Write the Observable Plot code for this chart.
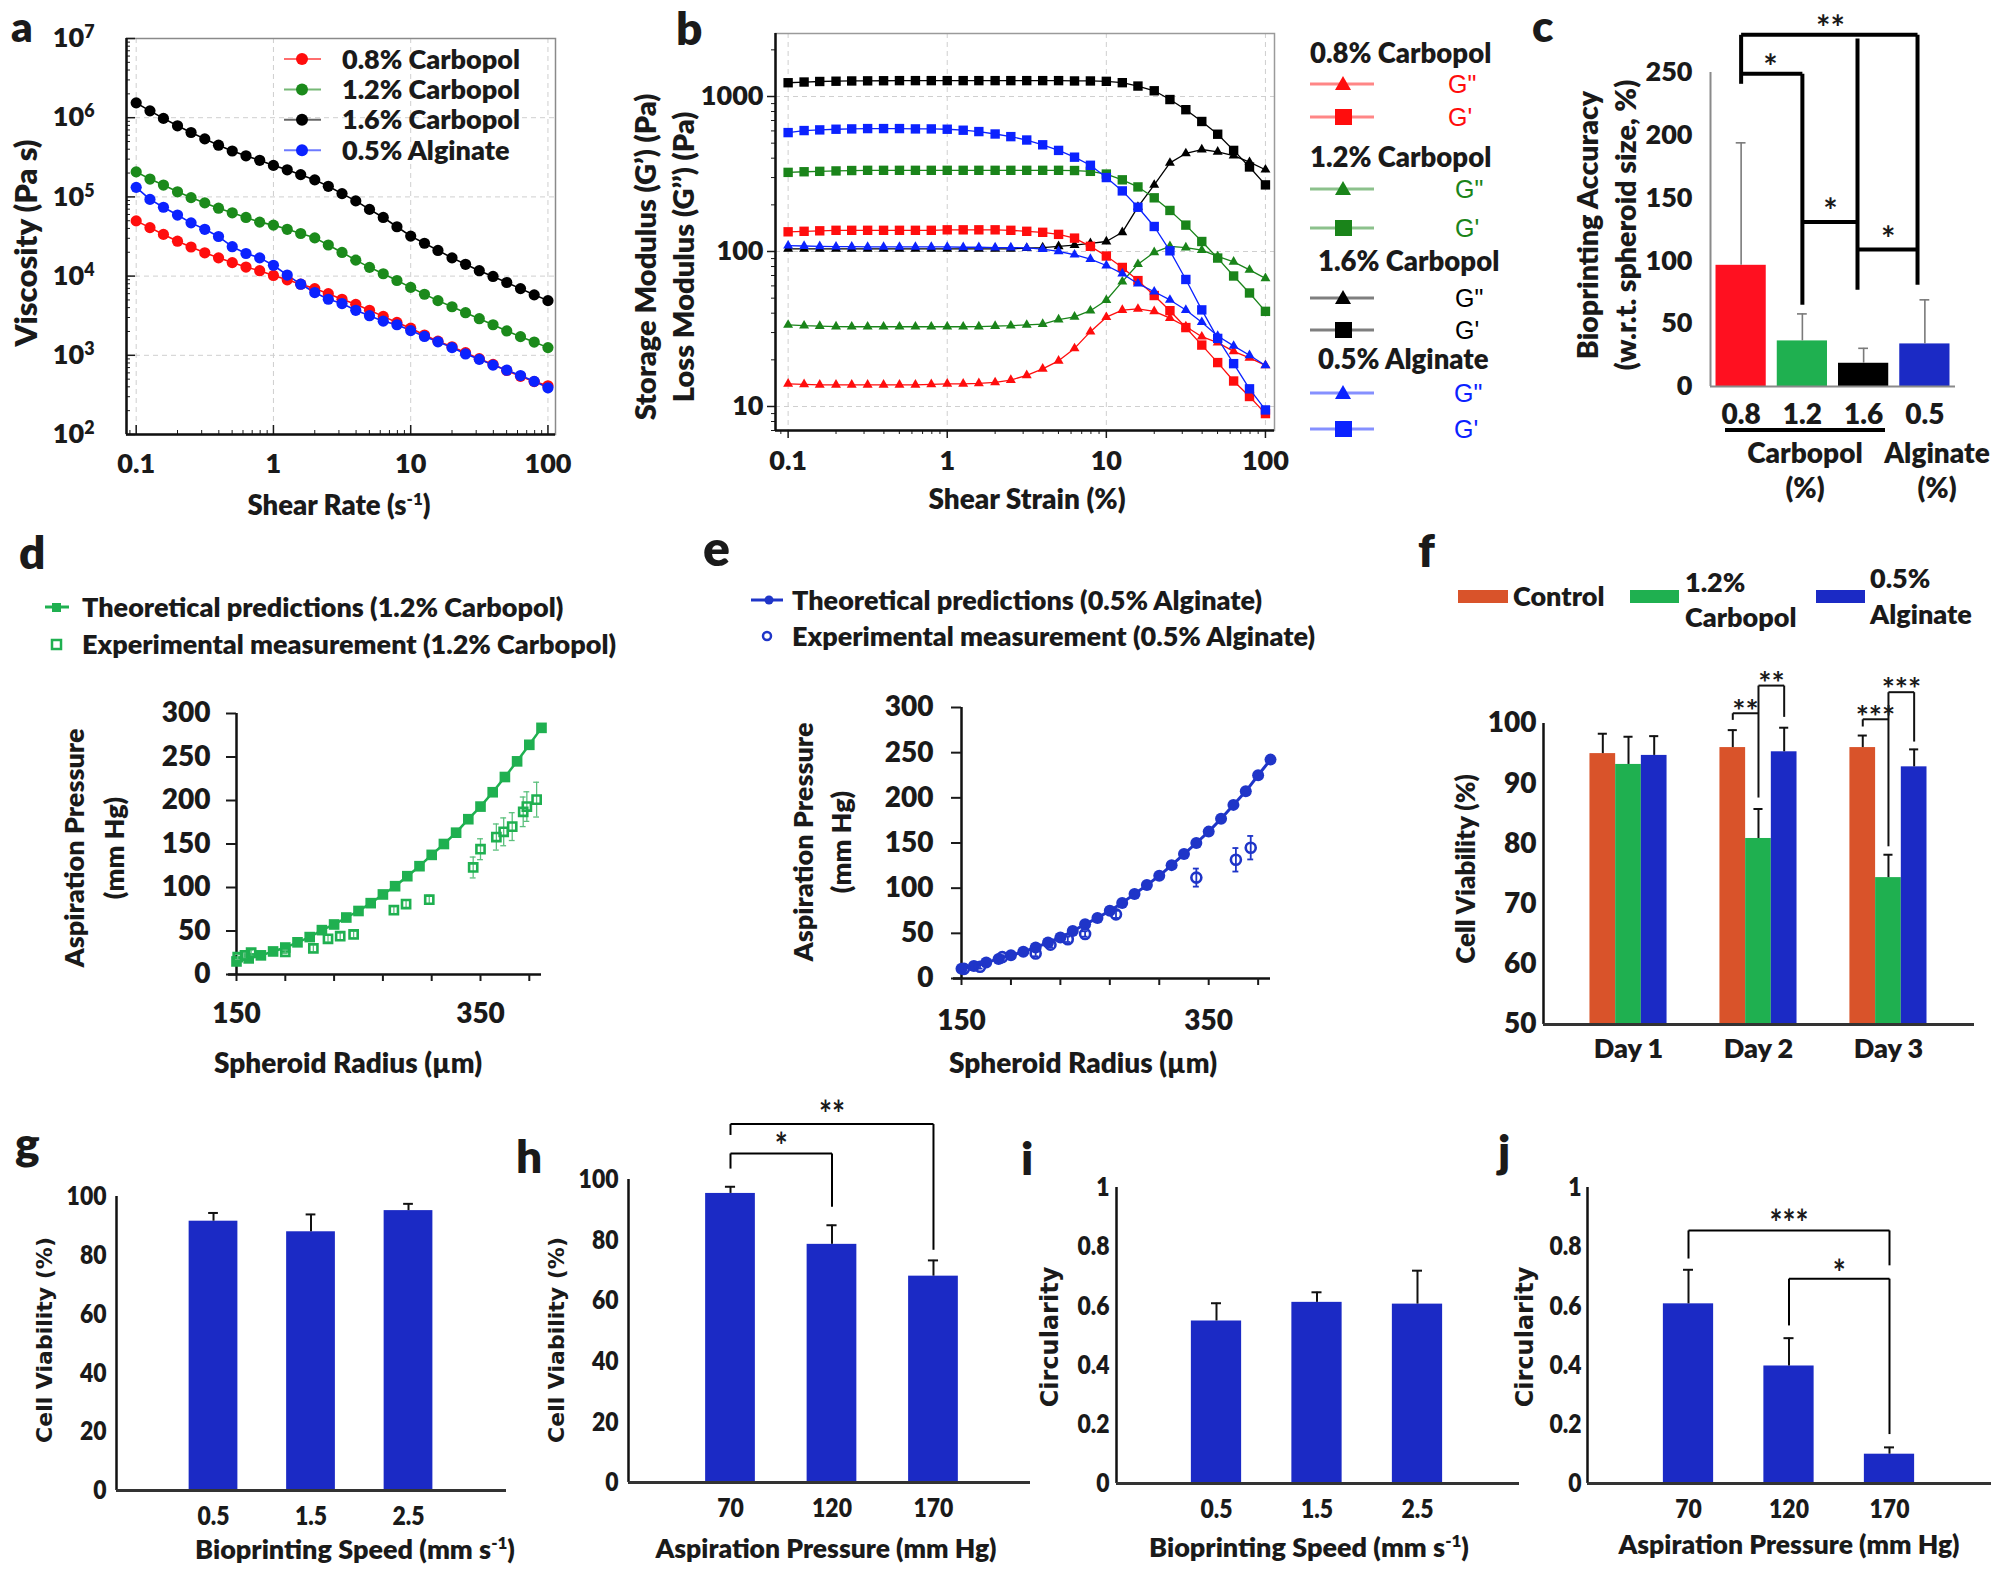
<!DOCTYPE html>
<html><head><meta charset="utf-8">
<script src="https://cdn.jsdelivr.net/npm/d3@7"></script>
<script src="https://cdn.jsdelivr.net/npm/@observablehq/plot@0.6"></script>
<style>
html,body{margin:0;padding:0;background:#fff;}
#root{position:relative;width:2010px;height:1577px;overflow:hidden;background:#fff;}
#root svg.panel{position:absolute;overflow:visible;}
#overlay{position:absolute;left:0;top:0;pointer-events:none;}
</style></head><body><div id="root"></div>
<script>
// ================= DATA =================
// (a) viscosity vs shear rate
const aShear = [0.1,0.126,0.158,0.2,0.251,0.316,0.398,0.501,0.631,0.794,1,1.26,1.58,2,2.51,3.16,3.98,5.01,6.31,7.94,10,12.6,15.8,20,25.1,31.6,39.8,50.1,63.1,79.4,100];
const aCarbopol08 = [49800,40900,33600,27600,23300,19700,17000,14800,13000,11700,10200,8980,7900,6950,6000,5100,4400,3700,3100,2600,2200,1800,1510,1280,1080,906,767,643,543,465,412];
const aCarbopol12 = [207000,168000,141000,116000,98000,84000,72000,63000,55000,48000,44000,39000,34500,30400,24700,19900,15900,12900,10700,8800,7200,5900,4900,4100,3450,2900,2430,2030,1720,1470,1250];
const aCarbopol16 = [1540000,1220000,980000,790000,650000,540000,450000,380000,330000,290000,250000,220000,191000,164000,136000,110000,89000,69500,55000,42000,32000,26000,21100,17000,14100,11700,9900,8300,6950,5800,4900];
const aAlginate = [132000,93000,74000,59000,47000,39000,31600,23500,19300,17000,13700,10300,7900,6200,5100,4500,3700,3160,2700,2430,2050,1730,1480,1250,1040,889,752,649,555,469,389];
const aNames = ["0.8% Carbopol","1.2% Carbopol","1.6% Carbopol","0.5% Alginate"];
const aXTicks = [0.1,1,10,100];
const aYTicks = [1e2,1e3,1e4,1e5,1e6,1e7];

// (b) moduli vs shear strain
const bStrain = [0.1,0.126,0.158,0.2,0.251,0.316,0.398,0.501,0.631,0.794,1,1.26,1.58,2,2.51,3.16,3.98,5.01,6.31,7.94,10,12.6,15.8,20,25.1,31.6,39.8,50.1,63.1,79.4,100];
const bC08Gp  = [134,135,136,137,137,137,137,137,137,137,138,138,138,138,137,135,133,129,122,108,93.5,78.9,64.9,52,41.5,32.3,24.9,19.2,14.6,11.6,9.0];
const bC08Gpp = [14.0,13.9,13.8,13.8,13.8,13.8,13.8,13.8,13.8,13.9,14.0,14.0,14.1,14.3,14.8,15.9,17.5,19.7,23.7,30.4,37.7,41.9,42.6,41.1,37.2,32.8,28.2,25.8,22.7,20.6,18.4];
const bC12Gp  = [324,327,329,331,333,334,334,334,334,334,334,334,334,334,334,334,334,334,333,329,316,290,261,222,184,148,116,90.7,69.5,54,41.1];
const bC12Gpp = [33.6,33.2,33.0,32.8,32.7,32.7,32.7,32.7,32.7,32.7,32.7,32.7,32.8,33.0,33.2,33.6,34.0,36.4,37.9,41.5,48.5,63.9,82.8,98.8,108,106,102,93,85.8,76.1,67.1];
const bC16Gp  = [1227,1240,1250,1255,1260,1262,1264,1266,1266,1266,1266,1266,1266,1266,1266,1266,1266,1266,1260,1260,1253,1228,1168,1089,956,822,690,571,449,351,269];
const bC16Gpp = [104,104,104,104,104,104,104,104,104,104,104,104,104,104,104,105,106,108,110,113,116,133,194,269,373,429,455,440,416,377,337];
const bAlgGp  = [585,603,609,615,618,621,621,621,618,618,615,606,594,573,551,524,488,449,406,360,300,246,193,145,101,66,42,27.5,18.9,13.0,9.5];
const bAlgGpp = [109,108.5,108,107.5,107.5,107,107,107,107,107,107,106.5,106.5,106,106,105.4,103.7,100.2,95.3,89.3,81.2,72,62,55,48.7,41.9,35,28.5,24.6,21.4,18.4];
const bXTicks = [0.1,1,10,100];
const bYTicks = [10,100,1000];

// (c) bioprinting accuracy
const cCats = ["0.8","1.2","1.6","0.5"];
const cMean = [96.5,36.3,18.5,33.9];
const cErr  = [97.5,21.5,11.9,35.1];
const cYTicks = [0,50,100,150,200,250];
const cBrackets = [[0,280,2.88,280],[0,280,0,241],[2.88,280,2.88,81],[0,249,1,249],[1,249,1,65],[1,131,1.9,131],[1.9,277,1.9,77],[1.9,109,2.88,109]];
const cStars = [{x:1.46,y:292,t:"**"},{x:0.48,y:261,t:"*"},{x:1.46,y:146,t:"*"},{x:2.4,y:124,t:"*"}];

// (d) 1.2% Carbopol aspiration pressure
const dRadius = [150,160,170,180,190,200,210,220,230,240,250,260,270,280,290,300,310,320,330,340,350,360,370,380,390,400];
const dTheory = [15,18.5,22,26.5,31,37,43,51,57.5,65.5,73,82,92,101.5,113,124.5,137.5,150,163,178.5,193,209.5,227,245,264,283.5];
const dExpRadius = [151,157,162,190,213,225,235,246,279,289,308,344,350,363,369,376,385,388,396];
const dExpP      = [20,22,25,26,30,41,44,46,74,81,86,123,144,158,164,170,187,193,201];
const dExpErr    = [3,3,3,2,4,4,4,4,4,5,5,12,12,15,16,16,17,17,20];

// (e) 0.5% Alginate aspiration pressure
const eRadius = [150,160,170,180,190,200,210,220,230,240,250,260,270,280,290,300,310,320,330,340,350,360,370,380,390,400];
const eTheory = [10.7,13.8,17.8,21.7,25.7,29.6,34.3,39.9,45.4,52.5,60,67.1,75,83.7,93.5,103.4,113.7,125.5,137.7,150,162.6,176.8,192.2,207.2,225,242.3];
const eExpRadius = [152,165,183,210,222,236,250,275,340,372,384];
const eExpP      = [10.7,13,23.7,27.6,37.5,43.4,49.3,71,111.7,131.4,144.8];
const eExpErr    = [2,2,2,3,3,3,3,4,10,13,13];
const dePTicks = [0,50,100,150,200,250,300];
const deRTicks = [150,190,230,270,310,350,390];

// (f) cell viability over days
const fDays = ["Day 1","Day 2","Day 3"];
const fSeries = ["Control","1.2% Carbopol","0.5% Alginate"];
const fControl = [95.0,96.0,96.0];
const fControlErr = [3.3,2.9,2.0];
const fCarbopol = [93.2,80.9,74.4];
const fCarbopolErr = [4.6,4.9,3.8];
const fAlginate = [94.7,95.3,92.8];
const fAlginateErr = [3.2,4.0,2.9];
const fYTicks = [50,60,70,80,90,100];

// (g) viability vs speed, (h) viability vs pressure
const gSpeed = ["0.5","1.5","2.5"];
const gViab = [91.6,88.0,95.2];
const gErr = [2.8,5.9,2.3];
const hPressure = ["70","120","170"];
const hViab = [95.4,78.6,68.1];
const hErr = [2.2,6.3,5.2];
const ghYTicks = [0,20,40,60,80,100];
// (i) circularity vs speed, (j) circularity vs pressure
const iCirc = [0.549,0.612,0.606];
const iErr = [0.060,0.034,0.113];
const jCirc = [0.607,0.397,0.099];
const jErr = [0.115,0.094,0.023];
const ijYTicks = [0,0.2,0.4,0.6,0.8,1];

// ================= STYLE =================
const FONT = "Lato, 'Open Sans', 'DejaVu Sans', sans-serif";
const WEIGHT = 800;
const RED = "#ff0d0d", GREEN_A = "#1b8a1b", BLUE_A = "#0b22ff";
const BAR_RED = "#ff1020", BAR_GREEN = "#1fb050", BAR_BLUE = "#1b2ac5", BAR_ORANGE = "#d9532a";
const root = document.getElementById("root");
function place(el, left, top){ el.classList.add("panel"); el.style.position="absolute"; el.style.left=left+"px"; el.style.top=top+"px"; root.appendChild(el); return el; }
function st(fs){ return {fontFamily: FONT, fontWeight: String(WEIGHT), fontSize: fs+"px", color:"#1a1a1a", background:"transparent", overflow:"visible"}; }
function minorLog(lo, hi){ const out=[]; for(let e=-3;e<=8;e++) for(let m=2;m<=9;m++){ const v=m*Math.pow(10,e); if(v>=lo&&v<=hi) out.push(v);} return out; }
function supify(svg){ svg.querySelectorAll("text").forEach(t=>{ const m=/^10\^(-?\d+)$/.exec(t.textContent); if(m){ t.innerHTML = `10<tspan dy="-0.5em" font-size="0.66em">${m[1]}</tspan>`; } }); }
function condense(svg, sx){ svg.querySelectorAll("text").forEach(t=>{ const tr=t.getAttribute("transform"); if(tr!==null) t.setAttribute("transform", tr+` scale(${sx},1)`); }); return svg; }
const blank = () => "";

// ================= PANEL A =================
{
  const series = [aCarbopol08, aCarbopol12, aCarbopol16, aAlginate];
  const colors = [RED, GREEN_A, "#000000", BLUE_A];
  const rows = series.flatMap((vals,s)=> aShear.map((x,i)=>({x, y:vals[i], c:colors[s], k:aNames[s]})));
  const xd=[0.085,113.5], yd=[100,1e7];
  const p = Plot.plot({
    width:600, height:520, marginLeft:126, marginRight:45, marginTop:38, marginBottom:86,
    style: st(27),
    x:{type:"log", domain:xd, label:null}, y:{type:"log", domain:yd, label:null}, color:{type:"identity"},
    marks:[
      Plot.ruleX(aXTicks, {stroke:"#cfcfcf", strokeDasharray:"5,4"}),
      Plot.ruleY(aYTicks.slice(1,-1), {stroke:"#cfcfcf", strokeDasharray:"5,4"}),
      Plot.frame({stroke:"#8a8a8a", strokeWidth:1.5}),
      Plot.axisX(minorLog(xd[0],xd[1]), {tickSize:-4, tickFormat:blank}),
      Plot.axisX(aXTicks, {tickSize:-9, tickFormat:blank, strokeWidth:1.5}),
      Plot.axisX(aXTicks, {tickSize:0, tickPadding:19, tickFormat:d=>String(d), fontSize:27}),
      Plot.axisY(minorLog(yd[0],yd[1]), {tickSize:-4, tickFormat:blank}),
      Plot.axisY(aYTicks, {tickSize:-9, tickFormat:blank, strokeWidth:1.5}),
      Plot.axisY(aYTicks, {tickSize:0, tickPadding:32, tickFormat:d=>"10^"+Math.round(Math.log10(d)), fontSize:27}),
      Plot.ruleX([xd[0]], {stroke:"#111", strokeWidth:2.5}),
      Plot.ruleY([yd[0]], {stroke:"#111", strokeWidth:2.5}),
      Plot.line(rows, {x:"x", y:"y", z:"k", stroke:"c", strokeWidth:1.6}),
      Plot.dot(rows, {x:"x", y:"y", fill:"c", r:5.6})
    ]
  });
  supify(p);
  place(p, 0, 0);
}

// ================= PANEL B =================
{
  const bSeries = [
    {k:"1.6% Carbopol", gp:bC16Gp, gpp:bC16Gpp, c:"#000000"},
    {k:"0.8% Carbopol", gp:bC08Gp, gpp:bC08Gpp, c:RED},
    {k:"1.2% Carbopol", gp:bC12Gp, gpp:bC12Gpp, c:"#1a841a"},
    {k:"0.5% Alginate", gp:bAlgGp, gpp:bAlgGpp, c:BLUE_A}
  ];
  const xd=[0.0833,114], yd=[7.0,2550];
  const seriesMarks = bSeries.flatMap(s=>{
    const gp = bStrain.map((x,i)=>({x, y:s.gp[i]}));
    const gpp = bStrain.map((x,i)=>({x, y:s.gpp[i]}));
    return [
      Plot.line(gpp, {x:"x", y:"y", stroke:s.c, strokeWidth:1.3}),
      Plot.line(gp, {x:"x", y:"y", stroke:s.c, strokeWidth:1.3}),
      Plot.dot(gpp, {x:"x", y:"y", symbol:"triangle", fill:s.c, r:3.7}),
      Plot.dot(gp, {x:"x", y:"y", symbol:"square", fill:s.c, r:5.3})
    ];
  });
  const p = Plot.plot({
    width:700, height:520, marginLeft:175, marginRight:26, marginTop:33, marginBottom:90,
    style: st(27),
    x:{type:"log", domain:xd, label:null}, y:{type:"log", domain:yd, label:null},
    marks:[
      Plot.ruleX(bXTicks, {stroke:"#cfcfcf", strokeDasharray:"5,4"}),
      Plot.ruleY(bYTicks, {stroke:"#cfcfcf", strokeDasharray:"5,4"}),
      Plot.frame({stroke:"#9a9a9a", strokeWidth:1.5}),
      Plot.axisX(minorLog(xd[0],xd[1]), {tickSize:4, tickFormat:blank}),
      Plot.axisX(bXTicks, {tickSize:8, tickFormat:blank, strokeWidth:1.5}),
      Plot.axisX(bXTicks, {tickSize:0, tickPadding:20, tickFormat:d=>String(d), fontSize:27}),
      Plot.axisY(minorLog(yd[0],yd[1]), {tickSize:4, tickFormat:blank}),
      Plot.axisY(bYTicks, {tickSize:8, tickFormat:blank, strokeWidth:1.5}),
      Plot.axisY(bYTicks, {tickSize:0, tickPadding:12, tickFormat:d=>String(d), fontSize:27}),
      Plot.ruleX([xd[0]], {stroke:"#111", strokeWidth:2.5}),
      Plot.ruleY([yd[0]], {stroke:"#111", strokeWidth:2.5}),
      ...seriesMarks
    ]
  });
  place(p, 600, 0);
}

// ================= BAR PANEL HELPER =================
function barPanel(o){
  const idx = d3.range(o.values.length);
  const colorOf = i => o.colors ? o.colors[i] : o.color;
  const marks = [
    Plot.rect(idx, {x1:i=>i-o.hw, x2:i=>i+o.hw, y1:o.yd[0], y2:i=>o.values[i], fill:colorOf}),
    Plot.ruleX(idx, {x:i=>i, y1:i=>o.values[i], y2:i=>o.values[i]+o.errs[i], stroke:o.errColor||"#111", strokeWidth:o.errW||2}),
    Plot.ruleY(idx, {y:i=>o.values[i]+o.errs[i], x1:i=>i-o.cap, x2:i=>i+o.cap, stroke:o.errColor||"#111", strokeWidth:o.errW||2}),
    Plot.ruleX([o.xd[0]], {stroke:o.axisColor||"#111", strokeWidth:o.axisW||2.5}),
    Plot.ruleY([o.yd[0]], {stroke:o.baseColor||"#333", strokeWidth:o.baseW||3}),
    Plot.axisY(o.yTicks, {tickSize:o.yts||0, tickPadding:o.ytp, tickFormat:o.yFmt||(d=>String(d)), fontSize:o.fs}),
    Plot.axisX(idx, {tickSize:0, tickPadding:o.xtp, tickFormat:i=>o.cats[i], fontSize:o.xfs||o.fs})
  ];
  if (o.segs) marks.push(Plot.link(o.segs, {x1:d=>d[0], y1:d=>d[1], x2:d=>d[2], y2:d=>d[3], stroke:"#000", strokeWidth:o.brW||2}));
  if (o.stars) marks.push(Plot.text(o.stars, {x:"x", y:"y", text:"t", fontSize:o.starFs||28, dy:o.starDy||8, fontWeight:"bold"}));
  return Plot.plot({
    width:o.width, height:o.height, marginLeft:o.ml, marginRight:o.mr, marginTop:o.mt, marginBottom:o.mb,
    style: st(o.fs),
    x:{domain:o.xd, label:null}, y:{domain:o.yd, label:null}, color:{type:"identity"},
    marks
  });
}

// ================= PANEL C =================
place(barPanel({
  values:cMean, errs:cErr, cats:cCats, colors:[BAR_RED, BAR_GREEN, "#000000", BAR_BLUE],
  xd:[-0.5,3.5], yd:[0,250], yTicks:cYTicks, hw:0.41, cap:0.08,
  errColor:"#7a7a7a", errW:1.6, axisColor:"#8a8a8a", axisW:2, baseColor:"#8a8a8a", baseW:2,
  width:480, height:520, ml:180, mr:55, mt:72, mb:134, fs:27, xfs:28, ytp:18, xtp:18,
  segs:cBrackets, brW:4, stars:cStars, starFs:34, starDy:9
}), 1530, 0);

// ================= PANEL D / E =================
function scatterPanel(o){
  const theory = o.r.map((r,i)=>({r, p:o.p[i]}));
  const exp = o.er.map((r,i)=>({r, p:o.ep[i], e:o.ee[i]}));
  const marks = [
    Plot.ruleX([150], {stroke:"#111", strokeWidth:2.5}),
    Plot.ruleY([0], {x1:o.x0, x2:400, stroke:"#111", strokeWidth:2.5}),
    Plot.axisY(dePTicks, {tickSize:10, tickPadding:o.ytp, fontSize:28, strokeWidth:2}),
    Plot.axisX(deRTicks, {tickSize:7, tickPadding:o.xtp, tickFormat:d=>(d===150||d===350)?String(d):"", fontSize:28, strokeWidth:2}),
    Plot.line(theory, {x:"r", y:"p", stroke:o.c, strokeWidth:o.lw}),
    Plot.dot(theory, {x:"r", y:"p", symbol:o.sym, fill:o.c, r:o.rr}),
    Plot.ruleX(exp, {x:"r", y1:d=>d.p-d.e, y2:d=>d.p+d.e, stroke:o.ec, strokeWidth:o.ew}),
    Plot.ruleY(exp, {y:d=>d.p+d.e, x1:d=>d.r-2.4, x2:d=>d.r+2.4, stroke:o.ec, strokeWidth:o.ew}),
    Plot.ruleY(exp, {y:d=>d.p-d.e, x1:d=>d.r-2.4, x2:d=>d.r+2.4, stroke:o.ec, strokeWidth:o.ew}),
    Plot.dot(exp, {x:"r", y:"p", symbol:o.sym, fill:"none", stroke:o.c, strokeWidth:2.6, r:o.er0})
  ];
  return Plot.plot({
    width:o.width, height:o.height, marginLeft:o.ml, marginRight:o.mr, marginTop:o.mt, marginBottom:o.mb,
    style: st(28),
    x:{domain:[150,400], label:null}, y:{domain:[0,300], label:null},
    marks
  });
}
place(scatterPanel({r:dRadius, p:dTheory, er:dExpRadius, ep:dExpP, ee:dExpErr, c:BAR_GREEN, ec:"#5cc07d", ew:1.3,
  sym:"square", rr:6, er0:4.6, lw:2.5, x0:143.5, ytp:16, xtp:22,
  width:600, height:440, ml:236, mr:59, mt:73, mb:106}), 0, 640);
place(scatterPanel({r:eRadius, p:eTheory, er:eExpRadius, ep:eExpP, ee:eExpErr, c:"#1f35c8", ec:"#1f35c8", ew:1.8,
  sym:"circle", rr:6, er0:5, lw:3, x0:143.5, ytp:18, xtp:25,
  width:600, height:440, ml:281, mr:10, mt:67, mb:102}), 680, 640);

// ================= PANEL F =================
{
  const w = 0.1977;
  const vals = [fControl, fCarbopol, fAlginate];
  const errs = [fControlErr, fCarbopolErr, fAlginateErr];
  const cols = [BAR_ORANGE, BAR_GREEN, BAR_BLUE];
  const rows = [];
  fDays.forEach((d,di)=> fSeries.forEach((s,si)=> rows.push({cx: di+(si-1)*w, v:vals[si][di], e:errs[si][di], c:cols[si]})));
  const segs = [];
  [[1,87.7,101.7,100.6,106.3,101.1],[2,79.6,100.7,99.5,105.2,97.0]].forEach(([d,cLow,yA,yAl,yB,yBr])=>{
    const L=d-w, C=d, R=d+w;
    segs.push([L,yAl,L,yA],[L,yA,C,yA],[C,cLow,C,yB],[C,yB,R,yB],[R,yB,R,yBr]);
  });
  const stars = [{x:0.9,y:103.2,t:"**"},{x:1.1,y:107.8,t:"**"},{x:1.9,y:102.2,t:"***"},{x:2.1,y:106.8,t:"***"}];
  const p = Plot.plot({
    width:610, height:520, marginLeft:143, marginRight:36, marginTop:163, marginBottom:56,
    style: st(28),
    x:{domain:[-0.654,2.662], label:null}, y:{domain:[50,100], label:null}, color:{type:"identity"},
    marks:[
      Plot.rect(rows, {x1:d=>d.cx-w/2, x2:d=>d.cx+w/2, y1:50, y2:"v", fill:"c"}),
      Plot.ruleX(rows, {x:"cx", y1:"v", y2:d=>d.v+d.e, stroke:"#111", strokeWidth:2}),
      Plot.ruleY(rows, {y:d=>d.v+d.e, x1:d=>d.cx-0.035, x2:d=>d.cx+0.035, stroke:"#111", strokeWidth:2}),
      Plot.ruleX([-0.654], {stroke:"#111", strokeWidth:2.5}),
      Plot.ruleY([50], {stroke:"#333", strokeWidth:3}),
      Plot.axisY(fYTicks, {tickSize:0, tickPadding:7, fontSize:28}),
      Plot.axisX([0,1,2], {tickSize:0, tickPadding:14, tickFormat:i=>fDays[i], fontSize:27}),
      Plot.link(segs, {x1:d=>d[0], y1:d=>d[1], x2:d=>d[2], y2:d=>d[3], stroke:"#111", strokeWidth:2}),
      Plot.text(stars, {x:"x", y:"y", text:"t", fontSize:31, dy:8, fontWeight:"bold"})
    ]
  });
  place(p, 1400, 560);
}

// ================= PANELS G-J =================
const SQ = 0.85;
place(condense(barPanel({values:gViab, errs:gErr, cats:gSpeed, color:BAR_BLUE, xd:[-0.995,3.005], yd:[0,100], yTicks:ghYTicks,
  hw:0.25, cap:0.05, width:520, height:487, ml:116, mr:14, mt:106, mb:87, fs:27, ytp:10, xtp:15}), SQ), 0, 1090);
place(condense(barPanel({values:hViab, errs:hErr, cats:hPressure, color:BAR_BLUE, xd:[-1.005,2.956], yd:[0,100], yTicks:ghYTicks,
  hw:0.245, cap:0.05, width:515, height:487, ml:108, mr:5, mt:89, mb:95, fs:27, ytp:10, xtp:15,
  segs:[[0,114.7,0,118.3],[0,118.3,2,118.3],[2,118.3,2,76.8],[0,103.6,0,108.6],[0,108.6,1,108.6],[1,108.6,1,91]],
  stars:[{x:1,y:124,t:"**"},{x:0.5,y:113.6,t:"*"}], starFs:36, starDy:9}), SQ), 520, 1090);
place(condense(barPanel({values:iCirc, errs:iErr, cats:gSpeed, color:BAR_BLUE, xd:[-0.995,3.015], yd:[0,1], yTicks:ijYTicks,
  hw:0.25, cap:0.05, width:520, height:487, ml:116, mr:1, mt:97, mb:94, fs:27, ytp:7, xtp:15}), SQ), 1000, 1090);
place(condense(barPanel({values:jCirc, errs:jErr, cats:hPressure, color:BAR_BLUE, xd:[-1.005,3.015], yd:[0,1], yTicks:ijYTicks,
  hw:0.25, cap:0.05, width:530, height:487, ml:107, mr:19, mt:97, mb:94, fs:27, ytp:6, xtp:15,
  segs:[[0,0.760,0,0.855],[0,0.855,2,0.855],[2,0.855,2,0.737],[1,0.534,1,0.692],[1,0.692,2,0.692],[2,0.692,2,0.167]],
  stars:[{x:1,y:0.906,t:"***"},{x:1.5,y:0.737,t:"*"}], starFs:36, starDy:9}), SQ), 1480, 1090);

// ================= TEXT OVERLAY (titles, letters, legends) =================
const ov = [];
function T(x, y, s, o={}){
  const fs=o.size||26, fam=o.family||FONT, w=o.weight||WEIGHT, fill=o.fill||"#1a1a1a", anchor=o.anchor||"start";
  const tr = o.rot ? `transform="translate(${x},${y}) rotate(-90)"` : `x="${x}" y="${y}"`;
  ov.push(`<text ${tr} font-family="${fam}" font-weight="${w}" font-size="${fs}" fill="${fill}" text-anchor="${anchor}">${s}</text>`);
}
const SUP = s => `<tspan dy="-10" font-size="17">${s}</tspan><tspan dy="10">)</tspan>`;
const DJ = "'DejaVu Sans', sans-serif";
// panel letters
T(11,42,"a",{size:42}); T(676,45,"b",{size:46}); T(1532,42,"c",{size:44});
T(19,569,"d",{size:46}); T(703,566,"e",{size:50}); T(1418,567,"f",{size:46});
T(15,1160,"g",{size:46}); T(516,1173,"h",{size:46}); T(1021,1175,"i",{size:46}); T(1498,1168,"j",{size:46});
// a
T(37,243,"Viscosity (Pa s)",{rot:true,anchor:"middle",size:31});
T(339,515,"Shear Rate (s"+SUP("-1"),{anchor:"middle",size:27.5});
[RED, GREEN_A, "#000", BLUE_A].forEach((c,i)=>{
  const y=59+30.4*i;
  ov.push(`<line x1="284" x2="321" y1="${y}" y2="${y}" stroke="${c}" stroke-opacity="0.6" stroke-width="2"/><circle cx="302" cy="${y}" r="6" fill="${c}"/>`);
  T(342,y+9.5,aNames[i],{size:27});
});
// b
T(656,257,"Storage Modulus (G’) (Pa)",{rot:true,anchor:"middle",size:29});
T(694,257,"Loss Modulus (G’’) (Pa)",{rot:true,anchor:"middle",size:29});
T(1027,509,"Shear Strain (%)",{anchor:"middle",size:28});
[{t:"0.8% Carbopol",tx:1310,ty:63,y1:84,y2:117,c:RED,gx:1448},
 {t:"1.2% Carbopol",tx:1310,ty:167,y1:189,y2:228,c:"#1a841a",gx:1455},
 {t:"1.6% Carbopol",tx:1318,ty:271,y1:298,y2:330,c:"#000",gx:1455},
 {t:"0.5% Alginate",tx:1318,ty:369,y1:393,y2:429,c:BLUE_A,gx:1454}].forEach(g=>{
  T(g.tx,g.ty,g.t,{size:27.5});
  ov.push(`<line x1="1310" x2="1374" y1="${g.y1}" y2="${g.y1}" stroke="${g.c}" stroke-opacity="0.5" stroke-width="3"/>`);
  ov.push(`<path d="M1343,${g.y1-8} L1351,${g.y1+6} L1335,${g.y1+6} Z" fill="${g.c}"/>`);
  ov.push(`<line x1="1310" x2="1374" y1="${g.y2}" y2="${g.y2}" stroke="${g.c}" stroke-opacity="0.5" stroke-width="3"/>`);
  ov.push(`<rect x="1335" y="${g.y2-8}" width="17" height="16" fill="${g.c}"/>`);
  T(g.gx,g.y1+9,"G&quot;",{size:25,weight:"normal",family:"'Liberation Sans', Arial, sans-serif",fill:g.c});
  T(g.gx,g.y2+9,"G'",{size:25,weight:"normal",family:"'Liberation Sans', Arial, sans-serif",fill:g.c});
});
// c
T(1598,225,"Bioprinting Accuracy",{rot:true,anchor:"middle",size:28.5});
T(1636,225,"(w.r.t. spheroid size, %)",{rot:true,anchor:"middle",size:28.5});
ov.push(`<line x1="1725" x2="1885" y1="430" y2="430" stroke="#000" stroke-width="4"/>`);
T(1805,463,"Carbopol",{anchor:"middle",size:28}); T(1805,498,"(%)",{anchor:"middle",size:28});
T(1937,463,"Alginate",{anchor:"middle",size:28}); T(1937,498,"(%)",{anchor:"middle",size:28});
// d
ov.push(`<line x1="45" x2="69" y1="607" y2="607" stroke="${BAR_GREEN}" stroke-width="3"/><rect x="52" y="603" width="9" height="9" fill="${BAR_GREEN}"/>`);
ov.push(`<rect x="52" y="640" width="9" height="9" fill="none" stroke="${BAR_GREEN}" stroke-width="2.5"/>`);
T(82,616.5,"Theoretical predictions (1.2% Carbopol)",{size:27});
T(82,653.5,"Experimental measurement (1.2% Carbopol)",{size:27});
T(84,848,"Aspiration Pressure",{rot:true,anchor:"middle",size:27});
T(124,848,"(mm Hg)",{rot:true,anchor:"middle",size:27});
T(348,1073,"Spheroid Radius (µm)",{anchor:"middle",size:28});
// e
ov.push(`<line x1="751" x2="783" y1="600" y2="600" stroke="#1f35c8" stroke-width="3"/><circle cx="769" cy="600" r="4.5" fill="#1f35c8"/>`);
ov.push(`<circle cx="767" cy="636" r="4" fill="none" stroke="#1f35c8" stroke-width="2.5"/>`);
T(792,609.5,"Theoretical predictions (0.5% Alginate)",{size:27});
T(792,645.5,"Experimental measurement (0.5% Alginate)",{size:27});
T(813,842,"Aspiration Pressure",{rot:true,anchor:"middle",size:27});
T(851,842,"(mm Hg)",{rot:true,anchor:"middle",size:27});
T(1083,1073,"Spheroid Radius (µm)",{anchor:"middle",size:28});
// f
ov.push(`<rect x="1458" y="590" width="50" height="13" fill="${BAR_ORANGE}"/><rect x="1630" y="590" width="49" height="13" fill="${BAR_GREEN}"/><rect x="1816" y="590" width="49" height="13" fill="${BAR_BLUE}"/>`);
T(1513,605.5,"Control",{size:27});
T(1685,591.5,"1.2%",{size:27}); T(1685,627,"Carbopol",{size:27});
T(1870,587.5,"0.5%",{size:27}); T(1870,623.5,"Alginate",{size:27});
T(1475,869,"Cell Viability (%)",{rot:true,anchor:"middle",size:26});
// g-j
T(52,1340,"Cell Viability (%)",{rot:true,anchor:"middle",size:22,family:DJ,weight:"bold"});
T(355,1559,"Bioprinting Speed (mm s"+SUP("-1"),{anchor:"middle",size:27});
T(564,1340,"Cell Viability (%)",{rot:true,anchor:"middle",size:22,family:DJ,weight:"bold"});
T(826,1558,"Aspiration Pressure (mm Hg)",{anchor:"middle",size:26.5});
T(1058,1337,"Circularity",{rot:true,anchor:"middle",size:24,family:DJ,weight:"bold"});
T(1309,1557,"Bioprinting Speed (mm s"+SUP("-1"),{anchor:"middle",size:27});
T(1533,1337,"Circularity",{rot:true,anchor:"middle",size:24,family:DJ,weight:"bold"});
T(1789,1554,"Aspiration Pressure (mm Hg)",{anchor:"middle",size:26.5});

root.insertAdjacentHTML("beforeend", `<svg id="overlay" xmlns="http://www.w3.org/2000/svg" width="2010" height="1577" viewBox="0 0 2010 1577">${ov.join("")}</svg>`);
</script></body></html>
